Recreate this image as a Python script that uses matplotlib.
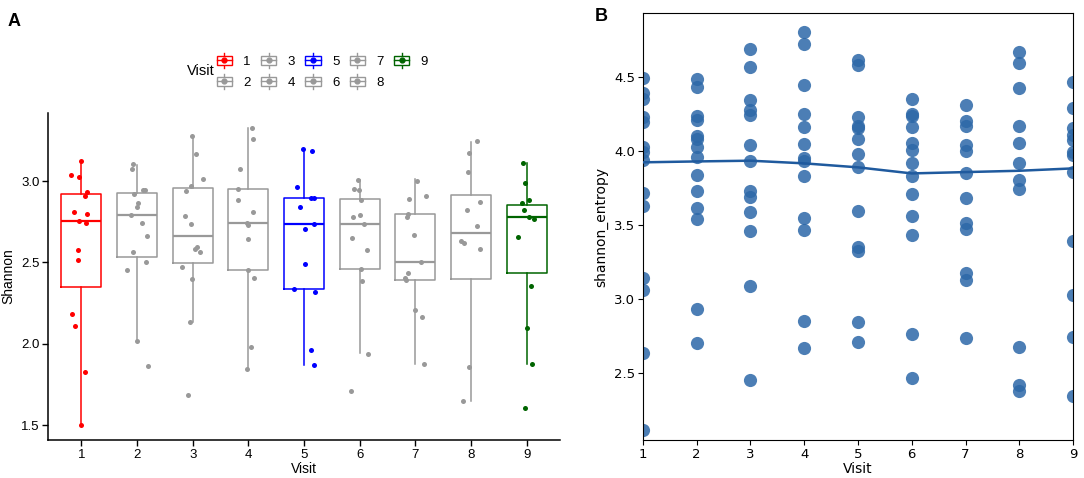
import matplotlib
matplotlib.use('Agg')
import matplotlib.pyplot as plt
from matplotlib.legend_handler import HandlerBase
from matplotlib.patches import Rectangle
from matplotlib.lines import Line2D

visits = [1, 2, 3, 4, 5, 6, 7, 8, 9]
visit_labels = ['1', '2', '3', '4', '5', '6', '7', '8', '9']
box_colors = ['#FF0000', '#999999', '#999999', '#999999', '#0000FF',
              '#999999', '#999999', '#999999', '#006400']

# panel A: box statistics
box_lo = [1.50, 2.02, 2.137, 1.845, 1.871, 1.943, 1.88, 1.65, 1.88]
box_q1 = [2.35, 2.536, 2.495, 2.452, 2.337, 2.458, 2.395, 2.399, 2.434]
box_med = [2.753, 2.793, 2.664, 2.742, 2.736, 2.734, 2.505, 2.679, 2.781]
box_q3 = [2.918, 2.928, 2.959, 2.953, 2.898, 2.888, 2.80, 2.916, 2.851]
box_hi = [3.12, 3.098, 3.276, 3.327, 3.18, 3.006, 3.012, 3.241, 3.108]

# panel A: jittered Shannon values per visit
shannon = [
    [3.12, 3.037, 3.025, 2.933, 2.908, 2.81, 2.798, 2.753, 2.74, 2.577, 2.517, 2.184, 2.11, 1.83, 1.50],
    [3.106, 3.076, 2.918, 2.943, 2.943, 2.863, 2.843, 2.79, 2.744, 2.663, 2.564, 2.505, 2.454, 2.02, 1.863],
    [3.276, 3.163, 3.014, 2.969, 2.937, 2.787, 2.736, 2.597, 2.581, 2.564, 2.47, 2.399, 2.137, 1.685],
    [3.327, 3.258, 3.074, 2.951, 2.883, 2.812, 2.744, 2.73, 2.642, 2.454, 2.403, 1.98, 1.845],
    [3.194, 3.182, 2.961, 2.898, 2.894, 2.838, 2.736, 2.706, 2.491, 2.337, 2.317, 1.963, 1.871],
    [3.006, 2.951, 2.945, 2.883, 2.781, 2.791, 2.734, 2.652, 2.577, 2.458, 2.388, 1.94, 1.712],
    [3.002, 2.89, 2.908, 2.796, 2.781, 2.669, 2.503, 2.437, 2.403, 2.391, 2.21, 2.167, 1.879],
    [3.243, 3.174, 3.055, 2.871, 2.82, 2.726, 2.632, 2.622, 2.581, 1.859, 1.65],
    [3.11, 2.986, 2.883, 2.863, 2.822, 2.777, 2.765, 2.656, 2.356, 2.098, 1.879, 1.605],
]
jitter = [
    [-0.006, -0.186, -0.036, 0.102, 0.066, -0.132, 0.102, -0.042, 0.084, -0.06, -0.054, -0.162, -0.12, 0.072, 0.0],
    [-0.08, -0.085, -0.05, 0.11, 0.145, 0.02, 0.0, -0.1, 0.09, 0.17, -0.08, 0.16, -0.18, 0.0, 0.2],
    [-0.02, 0.06, 0.19, -0.03, -0.12, -0.14, -0.03, 0.07, 0.035, 0.13, -0.2, -0.02, -0.05, -0.085],
    [0.06, 0.09, -0.15, -0.18, -0.18, 0.075, -0.03, 0.0, 0.0, 0.0, 0.11, 0.045, -0.03],
    [-0.025, 0.15, -0.125, 0.12, 0.175, -0.065, 0.185, 0.02, 0.01, -0.185, 0.2, 0.125, 0.175],
    [-0.03, -0.1, -0.01, 0.025, -0.125, 0.01, 0.07, -0.13, 0.13, 0.025, 0.05, 0.155, -0.16],
    [0.035, -0.11, 0.2, -0.125, -0.155, -0.02, 0.095, -0.14, -0.185, -0.16, 0.0, 0.115, 0.15],
    [0.1, -0.03, -0.055, 0.16, -0.07, 0.1, -0.185, -0.125, 0.155, -0.035, -0.145],
    [-0.065, -0.025, 0.045, -0.085, -0.045, 0.04, 0.14, -0.16, 0.07, 0.015, 0.105, -0.035],
]

# panel B: shannon_entropy per visit and fitted line
entropy = [
    [4.493, 4.392, 4.351, 4.234, 4.2, 4.027, 3.997, 3.941, 3.72, 3.632, 3.142, 3.063, 2.639, 2.119],
    [4.486, 4.432, 4.238, 4.211, 4.103, 4.081, 4.027, 3.964, 3.84, 3.732, 3.615, 3.54, 2.932, 2.707],
    [4.694, 4.568, 4.347, 4.279, 4.245, 4.043, 3.937, 3.734, 3.694, 3.588, 3.464, 3.09, 2.455],
    [4.809, 4.723, 4.45, 4.252, 4.167, 4.05, 3.953, 3.937, 3.833, 3.552, 3.468, 2.851, 2.669],
    [4.617, 4.583, 4.234, 4.171, 4.155, 4.081, 3.982, 3.892, 3.595, 3.356, 3.329, 2.845, 2.712],
    [4.351, 4.25, 4.239, 4.162, 4.059, 4.009, 3.919, 3.833, 3.712, 3.563, 3.432, 2.766, 2.468],
    [4.313, 4.207, 4.171, 4.043, 4.005, 3.851, 3.682, 3.518, 3.473, 3.176, 3.131, 2.741],
    [4.669, 4.595, 4.426, 4.171, 4.054, 3.923, 3.806, 3.743, 2.68, 2.421, 2.38],
    [4.471, 4.291, 4.155, 4.11, 4.077, 3.998, 3.975, 3.863, 3.396, 3.029, 2.743, 2.347],
]
entropy_line = [3.926, 3.932, 3.937, 3.919, 3.892, 3.851, 3.86, 3.869, 3.885]


class BoxKey:
    def __init__(self, color):
        self.color = color


class BoxKeyHandler(HandlerBase):
    def legend_artist(self, legend, orig_handle, fontsize, handlebox):
        x0, y0 = -handlebox.xdescent, -handlebox.ydescent
        w, h = handlebox.width, handlebox.height
        c = orig_handle.color
        tr = handlebox.get_transform()
        cx, cy = x0 + w / 2, y0 + h / 2
        rect = Rectangle((x0 + 0.05 * w, y0 + 0.15 * h), 0.9 * w, 0.7 * h,
                         fc='white', ec=c, lw=1.0, transform=tr)
        handlebox.add_artist(Line2D([cx, cx], [y0 - 0.1 * h, y0 + 1.1 * h],
                                    color=c, lw=1.0, transform=tr))
        handlebox.add_artist(rect)
        handlebox.add_artist(Line2D([x0 + 0.05 * w, x0 + 0.95 * w], [cy, cy],
                                    color=c, lw=1.0, transform=tr))
        handlebox.add_artist(Line2D([cx], [cy], marker='o', ms=3.5, color=c,
                                    transform=tr))
        return rect


fig = plt.figure(figsize=(10.84, 4.78), dpi=100)
arial = 'Liberation Sans'

# ---------------- panel A
ax1 = fig.add_axes([0.0443, 0.0789, 0.4723, 0.6849])
stats = []
for i in range(len(visits)):
    stats.append({'med': box_med[i], 'q1': box_q1[i], 'q3': box_q3[i],
                  'whislo': box_lo[i], 'whishi': box_hi[i], 'fliers': []})
bp = ax1.bxp(stats, positions=visits, widths=0.72, showfliers=False,
             showcaps=False)
for i, c in enumerate(box_colors):
    bp['boxes'][i].set(color=c, lw=1.1)
    bp['medians'][i].set(color=c, lw=1.6)
    bp['whiskers'][2 * i].set(color=c, lw=1.1)
    bp['whiskers'][2 * i + 1].set(color=c, lw=1.1)
for i, v in enumerate(visits):
    xs = [v + j for j in jitter[i]]
    ax1.scatter(xs, shannon[i], s=13, color=box_colors[i], zorder=3, lw=0)

ax1.set_xlim(0.4, 9.6)
ax1.set_ylim(1.409, 3.418)
ax1.set_xticks(visits)
ax1.set_xticklabels(visit_labels)
ax1.set_yticks([1.5, 2.0, 2.5, 3.0])
ax1.set_yticklabels(['1.5', '2.0', '2.5', '3.0'])
ax1.spines['top'].set_visible(False)
ax1.spines['right'].set_visible(False)
for s in ['left', 'bottom']:
    ax1.spines[s].set_linewidth(1.1)
ax1.tick_params(direction='out', length=4, width=1.0, labelsize=9.5,
                pad=2)
for lab in ax1.get_xticklabels() + ax1.get_yticklabels():
    lab.set_family(arial)
ax1.set_xlabel('Visit', fontsize=10, family=arial, labelpad=1)
ax1.set_ylabel('Shannon', fontsize=10, family=arial, labelpad=4)

handles = [BoxKey(c) for c in box_colors]
leg = fig.legend(handles, visit_labels, handler_map={BoxKey: BoxKeyHandler()},
                 ncol=5, loc='center', bbox_to_anchor=(0.297, 0.851),
                 frameon=False, handlelength=1.3, handleheight=1.1,
                 handletextpad=0.8, columnspacing=0.7, labelspacing=0.55,
                 prop={'family': arial, 'size': 9.5})
fig.text(0.185, 0.851, 'Visit', fontsize=10.5, family=arial,
         ha='center', va='center')

fig.text(0.013, 0.955, 'A', fontsize=13, fontweight='bold', family=arial,
         ha='center', va='center')

# ---------------- panel B
ax2 = fig.add_axes([0.593, 0.0795, 0.397, 0.8935])
for i, v in enumerate(visits):
    ax2.scatter([v] * len(entropy[i]), entropy[i], s=90, color='#2d68a8',
                alpha=0.85, lw=0, zorder=2)
ax2.plot(visits, entropy_line, color='#1f5a9e', lw=1.8, zorder=3)
ax2.set_xlim(1, 9)
ax2.set_ylim(2.049, 4.936)
ax2.set_xticks(visits)
ax2.set_yticks([2.5, 3.0, 3.5, 4.0, 4.5])
ax2.tick_params(direction='out', length=3.5, labelsize=9.5, pad=2)
ax2.set_xlabel('Visit', fontsize=10, labelpad=1)
ax2.set_ylabel('shannon_entropy', fontsize=10, labelpad=4)
fig.text(0.555, 0.966, 'B', fontsize=13, fontweight='bold', family=arial,
         ha='center', va='center')

fig.savefig('out.png', dpi=100)
